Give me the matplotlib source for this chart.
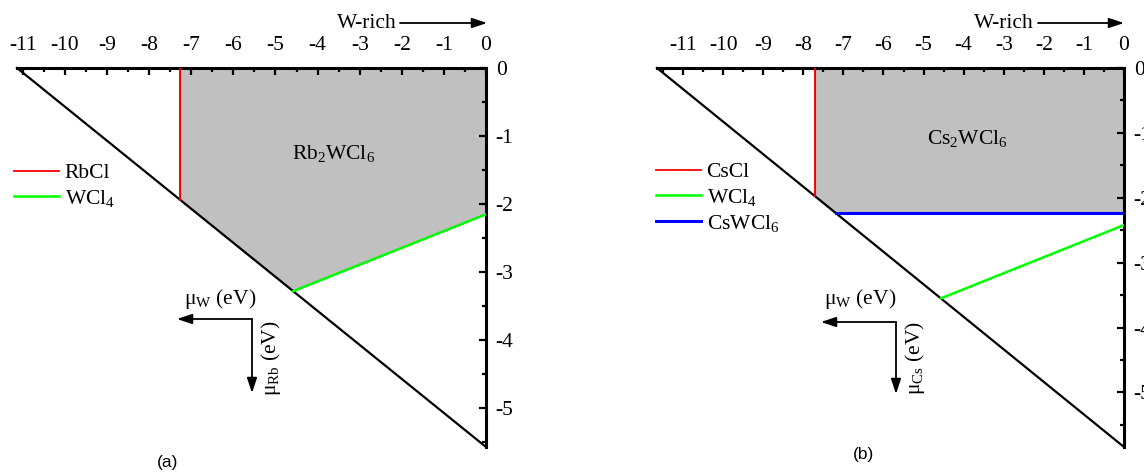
import matplotlib
matplotlib.use("Agg")
import matplotlib.pyplot as plt
from matplotlib.patches import FancyArrowPatch
from matplotlib.ticker import MultipleLocator, FixedLocator

plt.rcParams["font.family"] = ["Liberation Serif", "DejaVu Serif"]
plt.rcParams["mathtext.fontset"] = "custom"
plt.rcParams["mathtext.rm"] = "Liberation Serif"
plt.rcParams["mathtext.it"] = "Liberation Serif:italic"
plt.rcParams["axes.unicode_minus"] = False

# ---- Panel (a): Rb2WCl6 stability region (mu_W on x, mu_Rb on y, eV) ----
rb_diag_w = [-11.14, 0.0]
rb_diag_a = [0.0, -5.57]
rb_rbcl_w = [-7.26, -7.26]
rb_rbcl_a = [0.0, -1.94]
rb_wcl4_w = [-4.58, 0.0]
rb_wcl4_a = [-3.28, -2.15]
rb_region_w = [-7.26, 0.0, 0.0, -4.58, -7.26]
rb_region_a = [0.0, 0.0, -2.15, -3.28, -1.94]

# ---- Panel (b): Cs2WCl6 stability region (mu_W on x, mu_Cs on y, eV) ----
cs_diag_w = [-11.65, 0.0]
cs_diag_a = [0.0, -5.84]
cs_cscl_w = [-7.70, -7.70]
cs_cscl_a = [0.0, -1.975]
cs_wcl4_w = [-4.57, 0.0]
cs_wcl4_a = [-3.55, -2.42]
cs_cswcl6_w = [-7.19, 0.0]
cs_cswcl6_a = [-2.23, -2.23]
cs_region_w = [-7.70, 0.0, 0.0, -7.19, -7.70]
cs_region_a = [0.0, 0.0, -2.23, -2.23, -1.975]

x_ticks = list(range(-11, 1))
y_ticks = [0, -1, -2, -3, -4, -5]

W, H = 1144, 472
fig = plt.figure(figsize=(W / 100, H / 100), dpi=100)

FS = 15.5
RED, GREEN, BLUE, GRAY = "#ff0000", "#00ff00", "#0000ff", "#c0c0c0"


def px_axes(x0, x1, y0, y1):
    return fig.add_axes([x0 / W, 1 - y1 / H, (x1 - x0) / W, (y1 - y0) / H])


def style_axes(ax, xmin, ymin):
    ax.set_xlim(xmin, 0)
    ax.set_ylim(ymin, 0)
    ax.xaxis.tick_top()
    ax.yaxis.tick_right()
    for s in ("left", "bottom"):
        ax.spines[s].set_visible(False)
    for s in ("top", "right"):
        ax.spines[s].set_linewidth(2.2)
    ax.xaxis.set_major_locator(FixedLocator(x_ticks))
    ax.xaxis.set_minor_locator(MultipleLocator(0.5))
    ax.yaxis.set_major_locator(FixedLocator(y_ticks))
    ax.yaxis.set_minor_locator(MultipleLocator(0.5))
    ax.tick_params(which="both", direction="in", width=1.6, labelsize=FS)
    ax.tick_params(which="major", length=5)
    ax.tick_params(which="minor", length=3)
    ax.tick_params(axis="x", pad=9)
    ax.tick_params(axis="y", pad=7)
    ax.patch.set_visible(False)


legend_kw = dict(loc="upper left", frameon=False, fontsize=FS, handlelength=2.1,
                 handletextpad=0.25, labelspacing=0.22, borderpad=0, borderaxespad=0)

# Panel (a)
axa = px_axes(17, 486, 68, 447)
style_axes(axa, rb_diag_w[0], rb_diag_a[1])
axa.fill(rb_region_w, rb_region_a, facecolor=GRAY, edgecolor="#303030", lw=1.0, zorder=1)
axa.plot(rb_diag_w, rb_diag_a, color="black", lw=1.6, clip_on=False, zorder=3)
la1, = axa.plot(rb_rbcl_w, rb_rbcl_a, color=RED, lw=1.3, label="RbCl", zorder=4)
la2, = axa.plot(rb_wcl4_w, rb_wcl4_a, color=GREEN, lw=1.8, label=r"WCl$_\mathrm{4}$", zorder=4)
axa.text(-3.63, -1.25, r"Rb$_\mathrm{2}$WCl$_\mathrm{6}$", fontsize=FS, ha="center", va="center")
fig.legend(handles=[la1, la2], bbox_to_anchor=(14 / W, 1 - 163 / H), **legend_kw)

# Panel (b)
axb = px_axes(657, 1124, 68, 447)
style_axes(axb, cs_diag_w[0], cs_diag_a[1])
axb.fill(cs_region_w, cs_region_a, facecolor=GRAY, edgecolor="#303030", lw=1.0, zorder=1)
axb.plot(cs_diag_w, cs_diag_a, color="black", lw=1.6, clip_on=False, zorder=3)
lb1, = axb.plot(cs_cscl_w, cs_cscl_a, color=RED, lw=1.3, label="CsCl", zorder=4)
lb2, = axb.plot(cs_wcl4_w, cs_wcl4_a, color=GREEN, lw=1.8, label=r"WCl$_\mathrm{4}$", zorder=4)
lb3, = axb.plot(cs_cswcl6_w, cs_cswcl6_a, color=BLUE, lw=2.2, label=r"CsWCl$_\mathrm{6}$", zorder=4)
axb.text(-3.92, -1.08, r"Cs$_\mathrm{2}$WCl$_\mathrm{6}$", fontsize=FS, ha="center", va="center")
fig.legend(handles=[lb1, lb2, lb3], bbox_to_anchor=(656 / W, 1 - 162 / H), **legend_kw)


def fig_xy(x, y):
    return (x / W, 1 - y / H)


def arrow(p0, p1):
    fig.add_artist(FancyArrowPatch(fig_xy(*p0), fig_xy(*p1), transform=fig.transFigure,
                                   arrowstyle="-|>,head_length=0.9,head_width=0.3",
                                   mutation_scale=10, color="black", lw=1.3,
                                   shrinkA=0, shrinkB=0))


# "W-rich" direction markers
for tx, x0, x1 in ((367, 400, 487), (1004, 1038, 1124)):
    fig.text(*fig_xy(tx, 23), "W-rich", fontsize=FS, ha="center", va="center")
    arrow((x0, 23), (x1, 23))

# Chemical potential direction keys
for cx, cy, tip_x, tip_y, wx, rx, sub in ((252, 319, 177, 393, 220, 271, "Rb"),
                                          (896, 322, 821, 394, 860, 915, "Cs")):
    arrow((cx, cy), (tip_x, cy))
    arrow((cx, cy), (cx, tip_y))
    fig.text(*fig_xy(wx, 299), r"μ$_\mathrm{W}$ (eV)", fontsize=FS, ha="center", va="center")
    fig.text(*fig_xy(rx, 358), r"μ$_\mathrm{%s}$ (eV)" % sub, fontsize=FS, ha="center",
             va="center", rotation=90)

fig.text(*fig_xy(168, 462), "(a)", fontsize=12.5, family="Liberation Sans", ha="center", va="center")
fig.text(*fig_xy(863, 454), "(b)", fontsize=12.5, family="Liberation Sans", ha="center", va="center")

fig.savefig("out.png", dpi=100)
